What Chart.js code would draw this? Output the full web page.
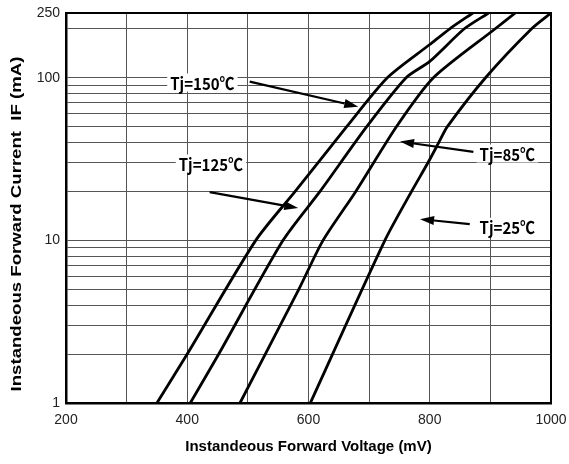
<!DOCTYPE html>
<html>
<head>
<meta charset="utf-8">
<script src="https://cdn.jsdelivr.net/npm/chart.js@4.4.1/dist/chart.umd.min.js"></script>
<style>
html, body { margin: 0; padding: 0; background: #fff; }
canvas { display: block; }
</style>
</head>
<body>
<canvas id="chart" width="569" height="464"></canvas>
<script>
// forward voltage (mV) vs forward current (mA)
const vf150 = [350, 400, 513, 578, 663, 730, 800, 833, 871]
const if150 = [1, 2, 10, 20, 50, 100, 160, 200, 250]
const vf125 = [405, 452, 558, 619, 696, 761, 800, 857, 897]
const if125 = [1, 2, 10, 20, 50, 100, 126, 200, 250]
const vf85 = [487, 584, 624, 678, 745, 806, 908, 941]
const if85 = [1, 5, 10, 20, 50, 100, 200, 250]
const vf25 = [603, 726, 770, 797, 815, 829, 892, 968, 1000]
const if25 = [1, 10, 20, 30, 40, 50, 100, 200, 250]

const yTicks = [1, 2, 3, 4, 5, 6, 7, 8, 9, 10, 20, 30, 40, 50, 60, 70, 80, 90, 100, 200, 250]
const yLabels = [1, 10, 100, 250]
const xLabels = [200, 400, 600, 800, 1000]

// callouts: text anchor and arrow (tail -> head), in mV / mA
const noteText = ['Tj=150℃', 'Tj=125℃', 'Tj=85℃', 'Tj=25℃']
const noteV = [425, 439, 928, 928]
const noteI = [93.5, 29.7, 34.2, 12.1]
const tailV = [503, 437, 872, 866]
const tailI = [94.6, 19.8, 35, 12.6]
const headV = [682, 583, 751, 784]
const headI = [66.4, 15.8, 40.5, 13.5]

const yTitle = 'Instandeous Forward Current  IF (mA)'

const pts = (xs, ys) => xs.map((v, i) => ({ x: v, y: ys[i] }))

const line = (label, xs, ys) => ({
    label,
    data: pts(xs, ys),
    borderColor: '#000',
    borderWidth: 2.8,
    pointRadius: 0,
    tension: 0.25,
    fill: false
})

const frame = {
    id: 'frame',
    afterDatasetsDraw(chart) {
        const { ctx, chartArea: a } = chart
        ctx.save()
        ctx.strokeStyle = '#000'
        ctx.lineWidth = 2
        ctx.strokeRect(a.left, a.top, a.right - a.left, a.bottom - a.top)
        ctx.restore()
    }
}

// y title drawn by hand: the source has it stretched along its length
const sideTitle = {
    id: 'sideTitle',
    afterDraw(chart) {
        const { ctx, chartArea: a } = chart
        ctx.save()
        ctx.translate(17, (a.top + a.bottom) / 2 + 16)
        ctx.rotate(-Math.PI / 2)
        ctx.scale(1.24, 1)
        ctx.font = 'bold 15px "Liberation Sans", Arial, sans-serif'
        ctx.fillStyle = '#000'
        ctx.textAlign = 'center'
        ctx.textBaseline = 'middle'
        ctx.fillText(yTitle, 0, 0)
        ctx.restore()
    }
}

const notes = {
    id: 'notes',
    afterDatasetsDraw(chart) {
        const { ctx } = chart
        const x = chart.scales.x, y = chart.scales.y
        ctx.save()
        ctx.font = 'bold 15px "Liberation Sans Narrow", "Arial Narrow", "Noto Sans CJK SC", sans-serif'
        ctx.textAlign = 'center'
        ctx.textBaseline = 'middle'
        noteText.forEach((t, i) => {
            const cx = x.getPixelForValue(noteV[i])
            const cy = y.getPixelForValue(noteI[i])
            const w = ctx.measureText(t).width
            ctx.fillStyle = '#fff'
            ctx.fillRect(cx - w / 2 - 3, cy - 9, w + 6, 18)
            ctx.fillStyle = '#000'
            ctx.save()
            ctx.translate(cx, cy + 1)
            ctx.scale(1, 1.12)
            ctx.fillText(t, 0, 0)
            ctx.restore()

            const x0 = x.getPixelForValue(tailV[i]), y0 = y.getPixelForValue(tailI[i])
            const x1 = x.getPixelForValue(headV[i]), y1 = y.getPixelForValue(headI[i])
            const ang = Math.atan2(y1 - y0, x1 - x0)
            const len = 14, half = 4.5
            const bx = x1 - len * Math.cos(ang), by = y1 - len * Math.sin(ang)
            ctx.strokeStyle = '#000'
            ctx.lineWidth = 2.2
            ctx.beginPath()
            ctx.moveTo(x0, y0)
            ctx.lineTo(bx, by)
            ctx.stroke()
            ctx.beginPath()
            ctx.moveTo(x1, y1)
            ctx.lineTo(bx + half * Math.sin(ang), by - half * Math.cos(ang))
            ctx.lineTo(bx - half * Math.sin(ang), by + half * Math.cos(ang))
            ctx.closePath()
            ctx.fillStyle = '#000'
            ctx.fill()
        })
        ctx.restore()
    }
}

const tickFont = { family: '"Liberation Sans", Arial, sans-serif', size: 14 }
const titleFont = { family: '"Liberation Sans", Arial, sans-serif', size: 15, weight: 'bold' }

new Chart(document.getElementById('chart'), {
    type: 'line',
    data: {
        datasets: [
            line('Tj=150℃', vf150, if150),
            line('Tj=125℃', vf125, if125),
            line('Tj=85℃', vf85, if85),
            line('Tj=25℃', vf25, if25)
        ]
    },
    options: {
        responsive: false,
        animation: false,
        devicePixelRatio: 1,
        layout: { padding: { left: 0, right: 18, top: 13, bottom: 0 } },
        plugins: {
            legend: { display: false },
            tooltip: { enabled: false }
        },
        scales: {
            x: {
                type: 'linear',
                min: 200,
                max: 1000,
                ticks: {
                    stepSize: 100,
                    autoSkip: false,
                    maxRotation: 0,
                    padding: 9,
                    color: '#222',
                    font: tickFont,
                    callback: v => xLabels.includes(v) ? String(v) : ''
                },
                grid: { color: '#555', lineWidth: 1, drawTicks: false },
                border: { color: '#000', width: 2.5 },
                title: {
                    display: true,
                    text: 'Instandeous Forward Voltage (mV)',
                    color: '#000',
                    font: titleFont,
                    padding: { top: 0, bottom: 8 }
                },
                afterFit: s => {
                    s.height = 61
                    s.paddingLeft = 0
                    s.paddingRight = 0
                }
            },
            y: {
                type: 'logarithmic',
                min: 1,
                max: 250,
                afterBuildTicks: s => { s.ticks = yTicks.map(v => ({ value: v })) },
                ticks: {
                    autoSkip: false,
                    padding: 6,
                    color: '#222',
                    font: tickFont,
                    callback: v => yLabels.includes(v) ? String(v) : ''
                },
                grid: { color: '#555', lineWidth: 1, drawTicks: false },
                border: { color: '#000', width: 2.5 },
                afterFit: s => {
                    s.width = 66
                    s.paddingTop = 0
                    s.paddingBottom = 0
                }
            }
        }
    },
    plugins: [frame, notes, sideTitle]
})
</script>
</body>
</html>
